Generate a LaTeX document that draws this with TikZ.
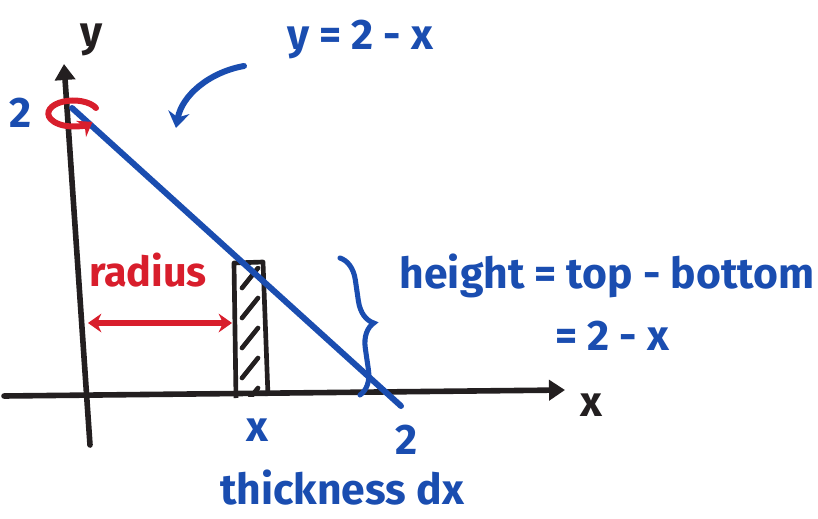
\documentclass[tikz,border=0pt]{standalone}
\usepackage{fontspec}
\setmainfont{Fira Sans}
\usetikzlibrary{arrows.meta,decorations.pathreplacing}
\definecolor{penblue}{HTML}{1A4DB0}
\definecolor{penred}{HTML}{D81E2C}
\definecolor{penblack}{HTML}{231F20}
\tikzset{
  axisline/.style={draw=penblack,line width=4.2pt,line cap=round,-{Triangle[length=12pt,width=15pt]}},
  bluepen/.style={draw=penblue,line width=4.5pt,line cap=round},
  redpen/.style={draw=penred,line width=3.8pt,line cap=round},
  bluetxt/.style={text=penblue,font=\bfseries\fontsize{32}{36}\selectfont,inner sep=0pt},
  redtxt/.style={text=penred,font=\bfseries\fontsize{31}{36}\selectfont,inner sep=0pt},
  blacktxt/.style={text=penblack,font=\bfseries\fontsize{32}{36}\selectfont,inner sep=0pt},
}
\begin{document}
\begin{tikzpicture}[x=0.75pt,y=-0.75pt]
\useasboundingbox (0,0) rectangle (818,518);
% coordinates
\coordinate (yb) at (90,445);
\coordinate (yt) at (64,64);
\coordinate (xl) at (4,396);
\coordinate (xr) at (565,390);
\coordinate (lt) at (72,108);
\coordinate (lb) at (401,406);
% strip
\draw[penblack,line width=3.5pt,line join=round] (236,398) -- (234,263) -- (263,262) -- (268,396);
\begin{scope}
\clip (238,266) rectangle (262,396);
\foreach \yy in {270,300,330,360,390}
  \draw[penblack,line width=3.5pt,line cap=round] (242,\yy+18) -- (258,\yy-2);
\end{scope}
% axes
\draw[axisline] (xl) -- (xr);
\draw[axisline] (yb) -- (yt);
\node[blacktxt] (ylab) at (92,40) {y};
\node[blacktxt] (xlab) at (591,405) {x};
% line y = 2 - x
\draw[bluepen] (lt) -- (lb);
% rotation symbol
\draw[redpen,line width=4.5pt,-{Stealth[length=10pt,width=14pt]}] (96,108) arc[start angle=-25,end angle=-320,x radius=25,y radius=13];
% labels
\node[bluetxt] (two) at (21,113) {2};
\node[bluetxt] (eq) at (360,40) {y = 2 - x};
\coordinate (ca) at (244,66);
\coordinate (cb) at (176,128);
\draw[bluepen,-{Stealth[length=12pt,width=16pt]}] (ca) .. controls (210,72) and (182,95) .. (cb);
% radius
\node[redtxt] (rad) at (148,270) {radius};
\coordinate (ra) at (88,323);
\coordinate (rb) at (232,323);
\draw[redpen,{Stealth[length=10pt,width=14pt]}-{Stealth[length=10pt,width=14pt]}] (ra) -- (rb);
% brace
\coordinate (ba) at (340,258);
\coordinate (bb) at (360,395);
\draw[bluepen,line width=3.8pt,decorate,decoration={brace,amplitude=18pt}] (ba) -- (bb);
\node[bluetxt] (ht) at (607,276) {height = top - bottom};
\node[bluetxt] (ht2) at (612,336) {= 2 - x};
% ticks labels
\node[bluetxt] (xs) at (257,430) {x};
\node[bluetxt] (twox) at (407,440) {2};
\node[bluetxt] (thick) at (342,488) {thickness dx};
\end{tikzpicture}
\end{document}
